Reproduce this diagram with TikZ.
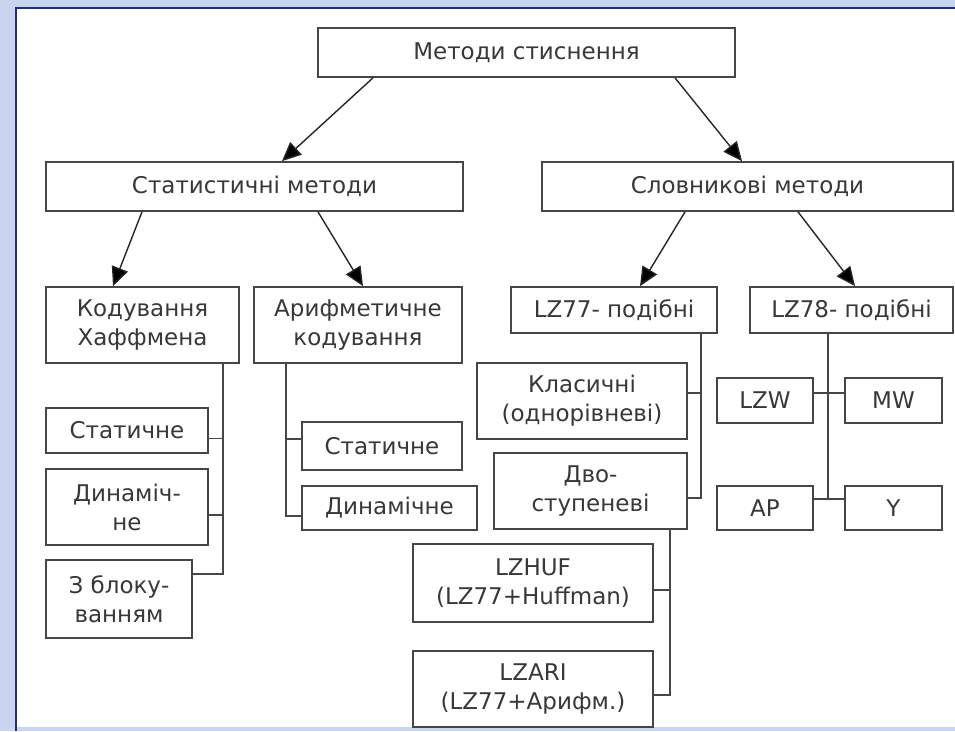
\documentclass[tikz,border=0pt]{standalone}
\usepackage{fontspec}
\setmainfont{DejaVu Sans}
\usetikzlibrary{arrows.meta}
\definecolor{panelblue}{RGB}{201,213,238}
\definecolor{navy}{RGB}{35,45,115}
\definecolor{boxgray}{RGB}{70,70,70}
\begin{document}
\begin{tikzpicture}[x=1pt,y=-1pt,
  box/.style={draw=boxgray,line width=1.7pt,fill=white,inner sep=0pt,align=center,
    text=black!78,font=\fontsize{23}{29}\selectfont},
  arr/.style={draw=black!85,line width=1.4pt,-{Triangle[length=19pt,width=17pt,fill=black]}},
  link/.style={draw=boxgray,line width=1.7pt}]
\useasboundingbox (0,0) rectangle (955,731);
\fill[panelblue] (0,0) rectangle (955,731);
\fill[white] (16,8) rectangle (955,727);
\draw[navy,line width=2.5pt] (16,731)--(16,8)--(955,8);

\node[box,minimum width=417pt,minimum height=49pt] (root) at (526.5,52.5) {Методи стиснення};
\node[box,minimum width=417pt,minimum height=49pt] (stat) at (254.5,186.5) {Статистичні методи};
\node[box,minimum width=411pt,minimum height=49pt] (dict) at (747.5,186.5) {Словникові методи};

\node[box,minimum width=193pt,minimum height=76pt] (huff) at (142.5,325) {Кодування\\Хаффмена};
\node[box,minimum width=208pt,minimum height=76pt] (arith) at (358,325) {Арифметичне\\кодування};
\node[box,minimum width=162pt,minimum height=45pt] (stat1) at (127,430.5) {Статичне};
\node[box,minimum width=162pt,minimum height=76pt] (dyn1) at (127,507) {Динаміч-\\не};
\node[box,minimum width=146pt,minimum height=78pt] (block) at (119,599) {З блоку-\\ванням};
\node[box,minimum width=160pt,minimum height=48pt] (stat2) at (382,446) {Статичне};
\node[box,minimum width=175pt,minimum height=44pt] (dyn2) at (389.5,508) {Динамічне};

\node[box,minimum width=206pt,minimum height=46pt] (lz77) at (614,310) {LZ77- подібні};
\node[box,minimum width=203pt,minimum height=46pt] (lz78) at (851.5,310) {LZ78- подібні};
\node[box,minimum width=210pt,minimum height=76pt] (classic) at (582,401) {Класичні\\(однорівневі)};
\node[box,minimum width=193pt,minimum height=76pt] (twostage) at (590.5,491) {Дво-\\ступеневі};
\node[box,minimum width=240pt,minimum height=78pt] (lzhuf) at (533,583) {LZHUF\\(LZ77+Huffman)};
\node[box,minimum width=240pt,minimum height=76pt] (lzari) at (533,689) {LZARI\\(LZ77+Арифм.)};
\node[box,minimum width=96pt,minimum height=45pt] (lzw) at (765,400.5) {LZW};
\node[box,minimum width=97pt,minimum height=45pt] (mw) at (893.5,400.5) {MW};
\node[box,minimum width=96pt,minimum height=44pt] (ap) at (765,508) {AP};
\node[box,minimum width=97pt,minimum height=44pt] (yy) at (893.5,508) {Y};

\draw[arr] ([xshift=-153.5pt]root.south)--([xshift=27.5pt]stat.north);
\draw[arr] ([xshift=148.5pt]root.south)--([xshift=-5.5pt]dict.north);
\draw[arr] ([xshift=-112.5pt]stat.south)--([xshift=-29.5pt]huff.north);
\draw[arr] ([xshift=63.5pt]stat.south)--([xshift=5pt]arith.north);
\draw[arr] ([xshift=-62.5pt]dict.south)--([xshift=26pt]lz77.north);
\draw[arr] ([xshift=50.5pt]dict.south)--([xshift=3.5pt]lz78.north);

\draw[link] ([xshift=-17pt]huff.south east) |- ([yshift=-8pt]stat1.east);
\draw[link] ([xshift=-17pt]huff.south east) |- ([yshift=-8pt]dyn1.east);
\draw[link] ([xshift=-17pt]huff.south east) |- ([yshift=25pt]block.east);
\draw[link] ([xshift=33pt]arith.south west) |- ([yshift=7pt]stat2.west);
\draw[link] ([xshift=33pt]arith.south west) |- ([yshift=-8pt]dyn2.west);
\draw[link] ([xshift=-17pt]lz77.south east) |- ([yshift=8pt]classic.east);
\draw[link] ([xshift=-17pt]lz77.south east) |- ([yshift=-7pt]twostage.east);
\draw[link] ([xshift=-18pt]twostage.south east) |- ([yshift=-7pt]lzhuf.east);
\draw[link] ([xshift=-18pt]twostage.south east) |- ([yshift=-6pt]lzari.east);
\draw[link] ([xshift=78.5pt]lz78.south west) |- ([yshift=9pt]ap.east);
\draw[link] ([yshift=7.5pt]lzw.east)--([yshift=7.5pt]mw.west);
\draw[link] ([yshift=9pt]ap.east)--([yshift=9pt]yy.west);
\end{tikzpicture}
\end{document}
